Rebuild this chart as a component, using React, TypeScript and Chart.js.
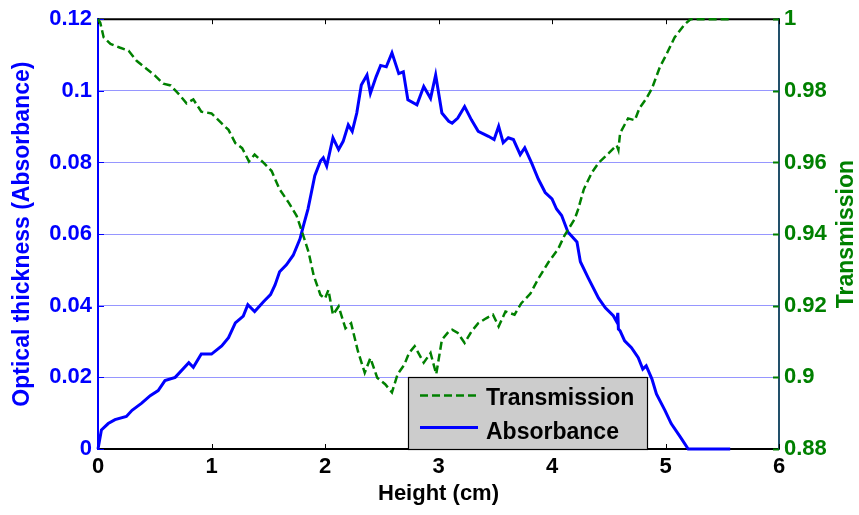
import React, { useEffect, useRef } from "react";
import { Chart, registerables } from "chart.js";

Chart.register(...registerables);

// Absorbance (left axis) vs height
const heightA = [
  0, 0.03, 0.09, 0.15, 0.25, 0.3, 0.385, 0.46, 0.53, 0.59, 0.68, 0.8, 0.84, 0.91, 1.0, 1.09, 1.15, 1.21,
  1.28, 1.32, 1.38, 1.46, 1.52, 1.56, 1.6, 1.66, 1.72, 1.78, 1.81, 1.85, 1.88, 1.91, 1.96, 1.985, 2.015,
  2.07, 2.12, 2.16, 2.205, 2.24, 2.28, 2.32, 2.37, 2.4, 2.45, 2.49, 2.54, 2.59, 2.65, 2.69, 2.73, 2.81,
  2.87, 2.93, 2.975, 3.03, 3.09, 3.12, 3.17, 3.23, 3.29, 3.35, 3.44, 3.49, 3.53, 3.57, 3.615, 3.66, 3.72,
  3.76, 3.82, 3.88, 3.94, 4.0, 4.04, 4.085, 4.14, 4.22, 4.25, 4.32, 4.41, 4.47, 4.54, 4.57, 4.58, 4.585,
  4.6, 4.64, 4.7, 4.76, 4.8, 4.83, 4.88, 4.92, 4.995, 5.05, 5.13, 5.2, 5.57,
];
const absorbance = [
  0, 0.0053, 0.0071, 0.0082, 0.0091, 0.0108, 0.0128, 0.0149, 0.0163, 0.0191, 0.02, 0.0241, 0.0228, 0.0265,
  0.0265, 0.0288, 0.0311, 0.0352, 0.0371, 0.0403, 0.0384, 0.0412, 0.0431, 0.0458, 0.0495, 0.0514, 0.0541,
  0.0587, 0.0624, 0.067, 0.0716, 0.0763, 0.0804, 0.0813, 0.079, 0.0869, 0.0836, 0.0859, 0.0905, 0.0887,
  0.0938, 0.1016, 0.1044, 0.0993, 0.1039, 0.1071, 0.1067, 0.1106, 0.1048, 0.1053, 0.0975, 0.0961, 0.1012,
  0.0979, 0.1044, 0.0938, 0.0915, 0.091, 0.0924, 0.0956, 0.0919, 0.0887, 0.0873, 0.0864, 0.0901, 0.0855,
  0.0869, 0.0864, 0.0822, 0.0841, 0.0799, 0.0753, 0.0716, 0.0698, 0.067, 0.0652, 0.0606, 0.0578, 0.0523,
  0.0477, 0.0421, 0.0394, 0.0372, 0.0355, 0.038, 0.0335, 0.033, 0.0302, 0.0283, 0.0255, 0.0223, 0.0232,
  0.0196, 0.0154, 0.0108, 0.0071, 0.0034, 0, 0,
];

// Transmission (right axis) vs height
const heightT = [
  0, 0.02, 0.05, 0.11, 0.19, 0.27, 0.34, 0.41, 0.5, 0.575, 0.64, 0.72, 0.78, 0.84, 0.91, 1.0, 1.09, 1.15,
  1.21, 1.27, 1.33, 1.38, 1.46, 1.53, 1.6, 1.68, 1.75, 1.79, 1.855, 1.9, 1.96, 2.0, 2.03, 2.07, 2.12, 2.18,
  2.23, 2.29, 2.35, 2.4, 2.46, 2.53, 2.59, 2.64, 2.7, 2.74, 2.79, 2.87, 2.93, 2.98, 3.03, 3.09, 3.12, 3.17,
  3.23, 3.29, 3.35, 3.42, 3.48, 3.53, 3.59, 3.67, 3.73, 3.81, 3.88, 3.97, 4.055, 4.11, 4.2, 4.23, 4.28,
  4.35, 4.41, 4.5, 4.57, 4.585, 4.6, 4.67, 4.73, 4.77, 4.83, 4.88, 4.95, 5.01, 5.08, 5.17, 5.22, 5.57,
];
const transmission = [
  1.0, 0.999, 0.9949, 0.9931, 0.9921, 0.9912, 0.9884, 0.9866, 0.9843, 0.982, 0.9815, 0.9788, 0.9765, 0.9776,
  0.9742, 0.9737, 0.9709, 0.9691, 0.9654, 0.964, 0.9603, 0.9622, 0.9599, 0.9576, 0.9525, 0.9488, 0.9451,
  0.9414, 0.935, 0.9285, 0.923, 0.922, 0.9244, 0.9175, 0.9198, 0.9137, 0.9151, 0.9073, 0.9013, 0.9054,
  0.8999, 0.8981, 0.8958, 0.9009, 0.9036, 0.9068, 0.9087, 0.9041, 0.9068, 0.9009, 0.9105, 0.9128, 0.9133,
  0.9124, 0.9096, 0.9128, 0.9151, 0.9165, 0.9175, 0.9142, 0.9184, 0.9175, 0.9207, 0.9234, 0.9276, 0.9322,
  0.9359, 0.9396, 0.9442, 0.9469, 0.9525, 0.9571, 0.9599, 0.9626, 0.9648, 0.9635, 0.9682, 0.9723, 0.9718,
  0.9751, 0.9778, 0.9806, 0.9866, 0.9903, 0.9949, 0.9986, 1.0, 1.0,
];

const xTicks = [0, 1, 2, 3, 4, 5, 6];
const absTicks = [0, 0.02, 0.04, 0.06, 0.08, 0.1, 0.12];
const transTicks = [0.88, 0.9, 0.92, 0.94, 0.96, 0.98, 1];

const FONT = '"Liberation Sans", Arial, Helvetica, sans-serif';
const BLUE = "#0000ff";
const GREEN = "#008000";
const fmt = (v: number) => String(Number(Number(v).toFixed(2)));

export default function App() {
  const ref = useRef<HTMLCanvasElement>(null);

  useEffect(() => {
    const canvas = ref.current;
    if (!canvas) return;

    const decor = {
      id: "decor",
      beforeDatasetsDraw(chart: any) {
        const { ctx, chartArea: a, scales } = chart;
        ctx.save();
        ctx.strokeStyle = "#000";
        ctx.lineWidth = 2;
        ctx.beginPath();
        ctx.moveTo(a.left, a.top);
        ctx.lineTo(a.right, a.top);
        ctx.stroke();
        ctx.lineWidth = 1;
        for (const v of xTicks) {
          const px = Math.round(scales.x.getPixelForValue(v)) + 0.5;
          ctx.beginPath();
          ctx.moveTo(px, a.top);
          ctx.lineTo(px, a.top + 5);
          ctx.moveTo(px, a.bottom);
          ctx.lineTo(px, a.bottom - 5);
          ctx.stroke();
        }
        ctx.strokeStyle = BLUE;
        for (const v of absTicks) {
          const py = Math.round(scales.yA.getPixelForValue(v)) + 0.5;
          ctx.beginPath();
          ctx.moveTo(a.left, py);
          ctx.lineTo(a.left + 6, py);
          ctx.stroke();
        }
        ctx.strokeStyle = GREEN;
        ctx.lineWidth = 2;
        for (const v of transTicks) {
          const py = Math.round(scales.yT.getPixelForValue(v)) + 0.5;
          ctx.beginPath();
          ctx.moveTo(a.right, py);
          ctx.lineTo(a.right - 6, py);
          ctx.stroke();
        }
        ctx.restore();
      },
      afterDatasetsDraw(chart: any) {
        const { ctx, chartArea: a } = chart;
        ctx.save();
        const lx = a.left + 310;
        const ly = a.bottom - 72;
        const lw = 239;
        const lh = 72;
        ctx.fillStyle = "#cccccc";
        ctx.fillRect(lx, ly, lw, lh);
        ctx.strokeStyle = "#000";
        ctx.lineWidth = 1.2;
        ctx.strokeRect(lx + 0.5, ly + 0.5, lw, lh);
        // samples
        ctx.lineWidth = 2.5;
        ctx.strokeStyle = GREEN;
        ctx.setLineDash([8, 4]);
        ctx.beginPath();
        ctx.moveTo(lx + 12, ly + 18.5);
        ctx.lineTo(lx + 70, ly + 18.5);
        ctx.stroke();
        ctx.setLineDash([]);
        ctx.lineWidth = 3;
        ctx.strokeStyle = BLUE;
        ctx.beginPath();
        ctx.moveTo(lx + 12, ly + 50.5);
        ctx.lineTo(lx + 70, ly + 50.5);
        ctx.stroke();
        ctx.fillStyle = "#000";
        ctx.font = `bold 23px ${FONT}`;
        ctx.textAlign = "left";
        ctx.textBaseline = "alphabetic";
        ctx.fillText("Transmission", lx + 78, ly + 28);
        ctx.fillText("Absorbance", lx + 78, ly + 61.5);
        ctx.restore();
      },
      afterDraw(chart: any) {
        const { ctx, chartArea: a } = chart;
        const cy = (a.top + a.bottom) / 2;
        ctx.save();
        ctx.textAlign = "center";
        ctx.textBaseline = "middle";
        ctx.font = `bold 23px ${FONT}`;
        ctx.fillStyle = BLUE;
        ctx.save();
        ctx.translate(23, cy);
        ctx.rotate(-Math.PI / 2);
        ctx.fillText("Optical thickness (Absorbance)", 0, 0);
        ctx.restore();
        ctx.fillStyle = GREEN;
        ctx.save();
        ctx.translate(847, cy);
        ctx.rotate(-Math.PI / 2);
        ctx.fillText("Transmission", 0, 0);
        ctx.restore();
        ctx.fillStyle = "#000";
        ctx.font = `bold 22px ${FONT}`;
        ctx.textBaseline = "alphabetic";
        ctx.fillText("Height (cm)", (a.left + a.right) / 2, 500);
        ctx.restore();
      },
    };

    const tickFont = { family: FONT, size: 22, weight: "bold" as const };

    const chart = new Chart(canvas, {
      type: "line",
      data: {
        datasets: [
          {
            label: "Transmission",
            data: heightT.map((x, i) => ({ x, y: transmission[i] })),
            yAxisID: "yT",
            borderColor: GREEN,
            borderWidth: 2.5,
            borderDash: [8, 4],
            pointRadius: 0,
            tension: 0,
            fill: false,
            clip: 6,
          },
          {
            label: "Absorbance",
            data: heightA.map((x, i) => ({ x, y: absorbance[i] })),
            yAxisID: "yA",
            borderColor: BLUE,
            borderWidth: 3,
            pointRadius: 0,
            tension: 0,
            fill: false,
            clip: 6,
          },
        ],
      },
      options: {
        animation: false,
        responsive: false,
        devicePixelRatio: 1,
        layout: { padding: { top: 16, left: 0, right: 0, bottom: 0 } },
        plugins: { legend: { display: false }, tooltip: { enabled: false } },
        events: [],
        scales: {
          x: {
            type: "linear",
            min: 0,
            max: 6,
            afterBuildTicks: (s: any) => {
              s.ticks = xTicks.map((v) => ({ value: v }));
            },
            afterFit: (s: any) => {
              s.height = 66;
            },
            ticks: { font: tickFont, color: "#000", padding: 5, maxRotation: 0, callback: (v: any) => fmt(v) },
            grid: { display: false, drawTicks: false },
            border: { color: "#000", width: 2 },
          },
          yA: {
            type: "linear",
            position: "left",
            min: 0,
            max: 0.12,
            afterBuildTicks: (s: any) => {
              s.ticks = absTicks.map((v) => ({ value: v }));
            },
            afterFit: (s: any) => {
              s.width = 98;
            },
            ticks: { font: tickFont, color: BLUE, padding: 6, callback: (v: any) => fmt(v) },
            grid: { color: "#9696ff", lineWidth: 1, drawTicks: false },
            border: { color: BLUE, width: 2 },
          },
          yT: {
            type: "linear",
            position: "right",
            min: 0.88,
            max: 1,
            afterBuildTicks: (s: any) => {
              s.ticks = transTicks.map((v) => ({ value: v }));
            },
            afterFit: (s: any) => {
              s.width = 80;
            },
            ticks: { font: tickFont, color: GREEN, padding: 5, callback: (v: any) => fmt(v) },
            grid: { display: false, drawTicks: false },
            border: { color: "#22506a", width: 2 },
          },
        },
      },
      plugins: [decor],
    } as any);

    return () => chart.destroy();
  }, []);

  return (
    <div style={{ position: "absolute", left: 0, top: 0, width: 859, height: 515, background: "#fff" }}>
      <canvas ref={ref} width={859} height={515} style={{ width: 859, height: 515, display: "block" }} />
    </div>
  );
}
